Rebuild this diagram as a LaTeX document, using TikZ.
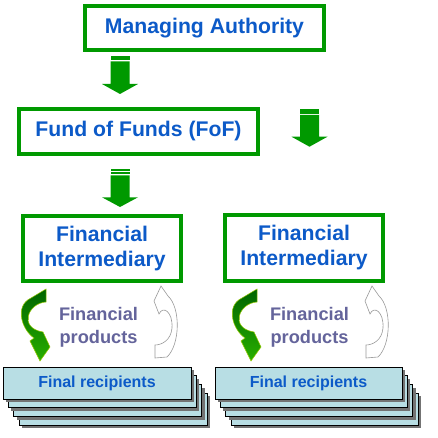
\documentclass[tikz,border=0pt]{standalone}
\usepackage{fontspec}
\setmainfont{Liberation Sans}
\usepackage{tikz}
\definecolor{boxgreen}{RGB}{0,153,0}
\definecolor{textblue}{RGB}{12,90,200}
\definecolor{prodgray}{RGB}{100,100,155}
\definecolor{recipfill}{RGB}{184,222,228}
\definecolor{darkgreen}{RGB}{0,100,0}
\definecolor{lightgreen}{RGB}{40,175,0}
\definecolor{edgegreen}{RGB}{150,200,0}
\newcommand{\prodarrow}{(46,-289) -- (46,-302) .. controls (28,-303) and (18,-328) .. (43,-332) -- (50,-347) -- (40,-361) -- (30,-341) -- (34,-338) .. controls (22,-330) and (14,-306) .. (31,-298) -- cycle}
\newcommand{\backarrow}{(161,-286) -- (168,-296) .. controls (181,-308) and (180,-345) .. (167,-357) -- (155,-358) -- (155,-345) .. controls (162,-345) and (171,-340) .. (172,-328) .. controls (173,-312) and (163,-305) .. (159,-314) -- (154,-301) -- cycle}

\begin{document}
\begin{tikzpicture}[x=1pt,y=1pt]
\tikzstyle{every node}+=[inner sep=0pt]
\tikzstyle{greenbox}=[draw=boxgreen, line width=4pt, fill=white, text=textblue, align=center, font=\bfseries\fontsize{21.2}{25}\selectfont]
\tikzstyle{blockarrow}=[fill=boxgreen]
\tikzstyle{greencurve}=[top color=darkgreen, bottom color=lightgreen, draw=edgegreen, line width=0.5pt]
\tikzstyle{whitecurve}=[fill=white, draw=black!40, line width=0.6pt]
\tikzstyle{prodtext}=[text=prodgray, align=center, font=\bfseries\fontsize{18.2}{23}\selectfont]
\tikzstyle{recipbox}=[draw=black, line width=0.8pt, fill=recipfill]
\tikzstyle{recipshadow}=[fill=black!55]
\tikzstyle{reciptext}=[text=textblue, font=\bfseries\fontsize{16}{18}\selectfont]
\useasboundingbox (0,0) rectangle (437,-438);
\fill [white] (0,0) rectangle (437,-438);
\node [greenbox, minimum width=239, minimum height=44] (MA) at (204.5,-28) {Managing Authority};
\node [greenbox, minimum width=239, minimum height=45] (FoF) at (138.5,-131.5) {Fund of Funds (FoF)};
\node [greenbox, minimum width=158, minimum height=65] (FIa) at (102,-248.5) {Financial\\Intermediary};
\node [greenbox, minimum width=158, minimum height=66] (FIb) at (304,-248) {Financial\\Intermediary};
\fill [blockarrow] (110.5,-55.7) rectangle (129.5,-60.3);
\fill [blockarrow] (110.5,-61.5) -- (129.5,-61.5) -- (129.5,-84) -- (138,-84) -- (120,-94) -- (102,-84) -- (110.5,-84) -- cycle;
\fill [blockarrow] (300,-109) rectangle (319,-113.7);
\fill [blockarrow] (300,-114.8) -- (319,-114.8) -- (319,-136.7) -- (327.5,-136.7) -- (309.5,-146.7) -- (291.5,-136.7) -- (300,-136.7) -- cycle;
\fill [blockarrow] (110.5,-168.7) rectangle (129.5,-170.7);
\fill [blockarrow] (110.5,-171.7) rectangle (129.5,-174.2);
\fill [blockarrow] (110.5,-175.3) -- (129.5,-175.3) -- (129.5,-197.3) -- (138,-197.3) -- (120,-207) -- (102,-197.3) -- (110.5,-197.3) -- cycle;
\shadedraw [greencurve] \prodarrow;
\draw [whitecurve] \backarrow;
\shadedraw [greencurve, shift={(211,0)}] \prodarrow;
\draw [whitecurve, shift={(211,0)}] \backarrow;
\node [prodtext] (PRa) at (98.5,-327) {Financial\\products};
\node [prodtext] (PRb) at (309.5,-327) {Financial\\products};
\foreach \k in {3,2,1} {
  \fill [recipshadow] ({6+5.3*\k},{-370-8.8*\k}) rectangle ({194+5.3*\k},{-402-8.8*\k});
  \draw [recipbox] ({3+5.3*\k},{-367-8.8*\k}) rectangle ({191+5.3*\k},{-399-8.8*\k});
  \fill [recipshadow] ({218+5.3*\k},{-370-8.8*\k}) rectangle ({405+5.3*\k},{-402-8.8*\k});
  \draw [recipbox] ({215+5.3*\k},{-367-8.8*\k}) rectangle ({402+5.3*\k},{-399-8.8*\k});
}
\fill [recipshadow] (6,-370) rectangle (194,-402);
\node [recipbox, reciptext, minimum width=188, minimum height=32] (FRa) at (97,-383) {Final recipients};
\fill [recipshadow] (218,-370) rectangle (405,-402);
\node [recipbox, reciptext, minimum width=187, minimum height=32] (FRb) at (308.5,-383) {Final recipients};
\end{tikzpicture}
\end{document}
